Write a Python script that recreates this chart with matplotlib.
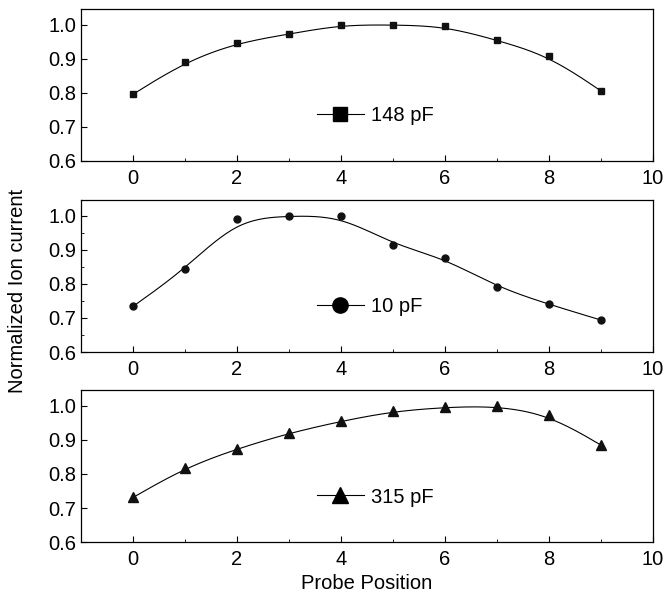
import matplotlib
matplotlib.use('Agg')
import matplotlib.pyplot as plt
from matplotlib.ticker import MultipleLocator
import numpy as np

plt.rcParams['font.family'] = ['Liberation Sans', 'DejaVu Sans']

# 探针位置和三组归一化离子电流
position = [0, 1, 2, 3, 4, 5, 6, 7, 8, 9]
current_148 = [0.796, 0.891, 0.947, 0.973, 1.0, 1.0, 0.996, 0.955, 0.909, 0.806]
current_10 = [0.734, 0.843, 0.990, 1.0, 1.0, 0.916, 0.875, 0.791, 0.740, 0.694]
current_315 = [0.731, 0.818, 0.874, 0.920, 0.955, 0.984, 0.996, 1.0, 0.974, 0.885]
labels = ['148 pF', '10 pF', '315 pF']
markers = ['s', 'o', '^']
fs = 14.5


def bspline(x, y, n=30):
    # 均匀三次B样条，端点重复使曲线经过首末点
    px = np.concatenate([[x[0]] * 2, x, [x[-1]] * 2])
    py = np.concatenate([[y[0]] * 2, y, [y[-1]] * 2])
    t = np.linspace(0, 1, n)
    b0 = (1 - t) ** 3 / 6
    b1 = (3 * t ** 3 - 6 * t ** 2 + 4) / 6
    b2 = (-3 * t ** 3 + 3 * t ** 2 + 3 * t + 1) / 6
    b3 = t ** 3 / 6
    xs, ys = [], []
    for i in range(len(px) - 3):
        xs.append(b0 * px[i] + b1 * px[i + 1] + b2 * px[i + 2] + b3 * px[i + 3])
        ys.append(b0 * py[i] + b1 * py[i + 1] + b2 * py[i + 2] + b3 * py[i + 3])
    return np.concatenate(xs), np.concatenate(ys)


fig = plt.figure(figsize=(6.65, 5.94), dpi=100)
bottoms = [0.729, 0.4074, 0.0875]
series = [current_148, current_10, current_315]
x = np.array(position, dtype=float)

for k in range(3):
    ax = fig.add_axes([0.1218, bottoms[k], 0.860, 0.256])
    y = np.array(series[k])
    sx, sy = bspline(x, y)
    ax.plot(sx, sy, color='k', linewidth=0.8)
    ax.plot(x, y, linestyle='none', marker=markers[k], color='#111111',
            markersize=5 if markers[k] != '^' else 6.5)
    h, = ax.plot([], [], color='k', linewidth=0.8, marker=markers[k],
                 markersize={'s': 9.5, 'o': 11, '^': 11}[markers[k]])
    ax.legend([h], [labels[k]], loc='center left', bbox_to_anchor=(0.413, 0.296),
              frameon=False, fontsize=fs, handlelength=2.3, handletextpad=0.35,
              borderpad=0, borderaxespad=0)
    ax.set_xlim(-1, 10)
    ax.set_ylim(0.6, 1.047)
    ax.xaxis.set_major_locator(MultipleLocator(2))
    ax.xaxis.set_minor_locator(MultipleLocator(1))
    ax.set_yticks([0.6, 0.7, 0.8, 0.9, 1.0])
    ax.set_yticklabels(['0.6', '0.7', '0.8', '0.9', '1.0'])
    if k == 1:
        ax.yaxis.set_minor_locator(MultipleLocator(0.05))
    ax.tick_params(direction='in', which='both', labelsize=fs, top=False, right=False)
    ax.tick_params(which='major', length=4)
    ax.tick_params(which='minor', length=2.5)
    ax.tick_params(axis='x', pad=6)
    for s in ax.spines.values():
        s.set_linewidth(0.9)
    if k == 2:
        ax.set_xlabel('Probe Position', fontsize=fs, labelpad=3)

fig.text(0.026, 0.51, 'Normalized Ion current', rotation=90, va='center', ha='center', fontsize=fs)

plt.savefig('out.png', dpi=100)
